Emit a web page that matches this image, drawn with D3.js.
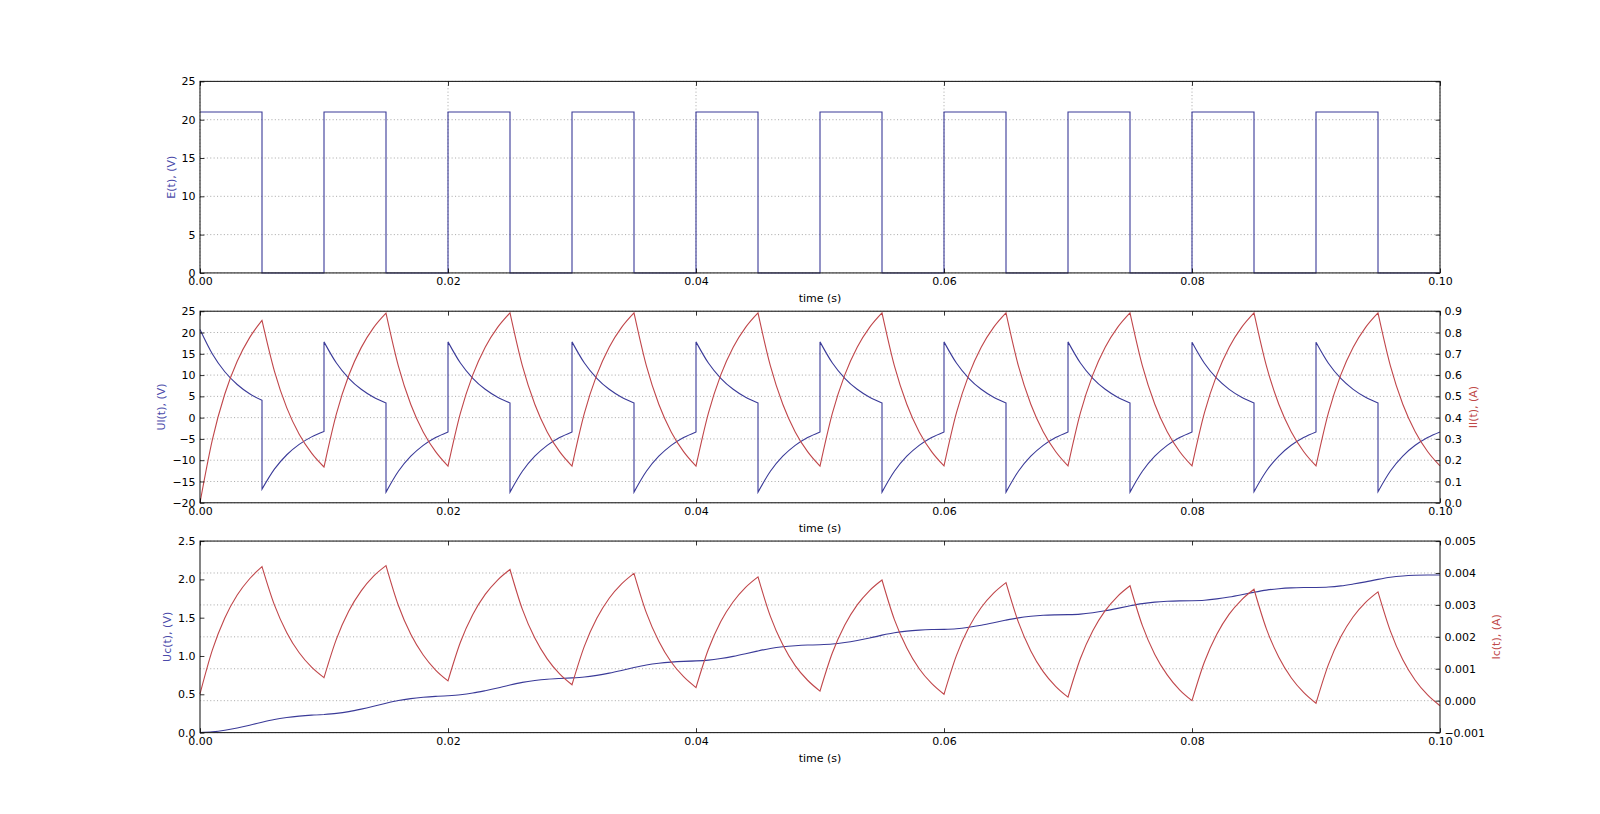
<!DOCTYPE html>
<html>
<head>
<meta charset="utf-8">
<script src="https://cdn.jsdelivr.net/npm/d3@7"></script>
<style>
  body { margin: 0; background: #fff; }
  text { font-family: "DejaVu Sans", sans-serif; }
</style>
</head>
<body>
<svg id="chart" width="1600" height="814"></svg>
<script>
// ---- data (one row per 5 ms half period, samples every 1 ms) ----
const timeTicks = [0, 0.02, 0.04, 0.06, 0.08, 0.1]
const halfPeriod = 0.005
const sampleStep = 0.001

// E(t), V : level of each half period
const eLevels = [21, 0, 21, 0, 21, 0, 21, 0, 21, 0, 21, 0, 21, 0, 21, 0, 21, 0, 21, 0]

// Ul(t), V
const ulSegments = [
    [20.7, 14.94, 10.78, 7.79, 5.62, 4.06],
    [-16.8, -12.11, -8.72, -6.29, -4.52, -3.25],
    [17.8, 12.83, 9.25, 6.66, 4.80, 3.45],
    [-17.5, -12.60, -9.07, -6.52, -4.68, -3.35],
    [17.8, 12.83, 9.25, 6.66, 4.80, 3.45],
    [-17.5, -12.60, -9.07, -6.52, -4.68, -3.35],
    [17.8, 12.83, 9.25, 6.66, 4.80, 3.45],
    [-17.5, -12.60, -9.07, -6.52, -4.68, -3.35],
    [17.8, 12.83, 9.25, 6.66, 4.80, 3.45],
    [-17.5, -12.60, -9.07, -6.52, -4.68, -3.35],
    [17.8, 12.83, 9.25, 6.66, 4.80, 3.45],
    [-17.5, -12.60, -9.07, -6.52, -4.68, -3.35],
    [17.8, 12.83, 9.25, 6.66, 4.80, 3.45],
    [-17.5, -12.60, -9.07, -6.52, -4.68, -3.35],
    [17.8, 12.83, 9.25, 6.66, 4.80, 3.45],
    [-17.5, -12.60, -9.07, -6.52, -4.68, -3.35],
    [17.7, 12.77, 9.21, 6.64, 4.79, 3.45],
    [-17.4, -12.53, -9.03, -6.50, -4.67, -3.35],
    [17.7, 12.77, 9.21, 6.64, 4.79, 3.45],
    [-17.4, -12.53, -9.03, -6.50, -4.67, -3.35]
]

// Il(t), A
const ilSegments = [
    [0, 0.297, 0.511, 0.665, 0.776, 0.857],
    [0.857, 0.619, 0.446, 0.322, 0.233, 0.168],
    [0.168, 0.418, 0.599, 0.729, 0.823, 0.891],
    [0.891, 0.642, 0.462, 0.333, 0.240, 0.172],
    [0.172, 0.421, 0.601, 0.731, 0.824, 0.892],
    [0.892, 0.643, 0.463, 0.333, 0.240, 0.172],
    [0.172, 0.421, 0.601, 0.731, 0.824, 0.892],
    [0.892, 0.643, 0.463, 0.333, 0.240, 0.172],
    [0.172, 0.421, 0.601, 0.731, 0.824, 0.892],
    [0.892, 0.643, 0.463, 0.333, 0.240, 0.172],
    [0.172, 0.421, 0.601, 0.731, 0.824, 0.892],
    [0.892, 0.643, 0.463, 0.333, 0.240, 0.173],
    [0.173, 0.422, 0.601, 0.731, 0.824, 0.892],
    [0.892, 0.643, 0.463, 0.334, 0.241, 0.173],
    [0.173, 0.422, 0.601, 0.731, 0.824, 0.892],
    [0.892, 0.643, 0.463, 0.334, 0.241, 0.173],
    [0.173, 0.422, 0.601, 0.731, 0.824, 0.892],
    [0.892, 0.643, 0.463, 0.334, 0.241, 0.173],
    [0.173, 0.422, 0.601, 0.731, 0.824, 0.892],
    [0.892, 0.643, 0.463, 0.334, 0.241, 0.173]
]

// Uc(t), V
const ucSegments = [
    [0, 0.009, 0.030, 0.060, 0.096, 0.136],
    [0.136, 0.172, 0.197, 0.215, 0.228, 0.237],
    [0.237, 0.251, 0.274, 0.306, 0.343, 0.383],
    [0.383, 0.419, 0.444, 0.461, 0.473, 0.481],
    [0.481, 0.494, 0.516, 0.547, 0.582, 0.622],
    [0.622, 0.656, 0.680, 0.697, 0.707, 0.714],
    [0.714, 0.725, 0.747, 0.776, 0.811, 0.849],
    [0.849, 0.882, 0.905, 0.920, 0.930, 0.936],
    [0.936, 0.946, 0.967, 0.995, 1.029, 1.066],
    [1.066, 1.098, 1.120, 1.134, 1.143, 1.147],
    [1.147, 1.156, 1.176, 1.203, 1.235, 1.272],
    [1.272, 1.303, 1.324, 1.337, 1.345, 1.348],
    [1.348, 1.356, 1.375, 1.401, 1.433, 1.468],
    [1.468, 1.498, 1.518, 1.531, 1.537, 1.540],
    [1.540, 1.547, 1.565, 1.590, 1.621, 1.655],
    [1.655, 1.684, 1.703, 1.714, 1.720, 1.722],
    [1.722, 1.728, 1.745, 1.769, 1.799, 1.832],
    [1.832, 1.860, 1.878, 1.889, 1.893, 1.894],
    [1.894, 1.900, 1.915, 1.939, 1.967, 2.000],
    [2.000, 2.028, 2.045, 2.054, 2.058, 2.058]
]

// Ic(t), mA
const icSegments = [
    [0.21, 1.59, 2.59, 3.31, 3.82, 4.20],
    [4.20, 3.00, 2.13, 1.50, 1.05, 0.72],
    [0.72, 1.93, 2.81, 3.44, 3.90, 4.23],
    [4.23, 2.98, 2.08, 1.43, 0.96, 0.62],
    [0.62, 1.83, 2.70, 3.33, 3.78, 4.11],
    [4.11, 2.86, 1.96, 1.31, 0.84, 0.50],
    [0.50, 1.71, 2.58, 3.21, 3.66, 3.99],
    [3.99, 2.75, 1.86, 1.21, 0.75, 0.41],
    [0.41, 1.61, 2.48, 3.10, 3.55, 3.88],
    [3.88, 2.64, 1.75, 1.10, 0.64, 0.30],
    [0.30, 1.50, 2.37, 3.00, 3.45, 3.78],
    [3.78, 2.54, 1.65, 1.00, 0.54, 0.20],
    [0.20, 1.41, 2.29, 2.92, 3.37, 3.70],
    [3.70, 2.46, 1.56, 0.91, 0.45, 0.11],
    [0.11, 1.32, 2.19, 2.82, 3.27, 3.60],
    [3.60, 2.35, 1.45, 0.81, 0.34, 0.00],
    [0.00, 1.21, 2.08, 2.71, 3.16, 3.49],
    [3.49, 2.25, 1.36, 0.72, 0.26, -0.08],
    [-0.08, 1.13, 2.00, 2.63, 3.08, 3.41],
    [3.41, 2.18, 1.28, 0.64, 0.18, -0.16]
]

const eTicks = [0, 5, 10, 15, 20, 25]
const ulTicks = [-20, -15, -10, -5, 0, 5, 10, 15, 20, 25]
const ilTicks = [0, 0.1, 0.2, 0.3, 0.4, 0.5, 0.6, 0.7, 0.8, 0.9]
const ucTicks = [0, 0.5, 1, 1.5, 2, 2.5]
const icTicks = [-0.001, 0, 0.001, 0.002, 0.003, 0.004, 0.005]

// ---- layout ----
const SVG = d3.select("#chart")
const Width = 1600
const Height = 814
const axLeft = 0.125 * Width
const axRight = 0.9 * Width
const figTop = 0.1 * Height
const figBottom = 0.9 * Height
const axH = (figBottom - figTop) / (3 + 2 * 0.2)
const gap = 0.2 * axH
const fontSize = 11
const tickLen = 4.4
const pad = 4.4

const blue = "#3a3a98"
const red = "#c0464a"
const blueText = "#4a4aaa"
const redText = "#c04848"

const xscale = d3.scaleLinear().domain([0, 0.1]).range([axLeft, axRight])
const fmtX = d3.format(".2f")

function panelTop(i) { return figTop + i * (axH + gap) }

function segmentPath(segments, yscale, scaleBy) {
    const line = d3.line()
        .x(d => xscale(d.t))
        .y(d => yscale(d.v * scaleBy))
        .curve(d3.curveMonotoneX)
    return segments.map((vals, k) => {
        const pts = vals.map((v, j) => ({ t: k * halfPeriod + j * sampleStep, v: v }))
        const p = line(pts)
        return k === 0 ? p : "L" + p.slice(1)
    }).join("")
}

function styleAxis(g) {
    g.select(".domain").remove()
    g.attr("font-size", fontSize).attr("font-family", "DejaVu Sans, sans-serif")
    g.selectAll(".tick line").attr("stroke", "#000").attr("stroke-width", 0.8)
    g.selectAll(".tick text").attr("fill", "#000")
}

function maxLabelWidth(g) {
    return d3.max(g.selectAll(".tick text").nodes(), n => n.getComputedTextLength()) || 0
}

function grid(top, yscale, ticks, vertical) {
    const G = SVG.append("g")
        .attr("stroke", "#000")
        .attr("stroke-opacity", 0.55)
        .attr("stroke-width", 0.6)
        .attr("stroke-dasharray", "1.1,2.3")
    G.selectAll("line.h").data(ticks).join("line")
        .attr("x1", axLeft).attr("x2", axRight)
        .attr("y1", d => yscale(d)).attr("y2", d => yscale(d))
    if (vertical) {
        G.selectAll("line.v").data(timeTicks).join("line")
            .attr("x1", d => xscale(d)).attr("x2", d => xscale(d))
            .attr("y1", top).attr("y2", top + axH)
    }
}

function xAxes(top) {
    const bottom = SVG.append("g")
        .attr("transform", `translate(0, ${top + axH})`)
        .call(d3.axisBottom(xscale).tickValues(timeTicks).tickFormat(fmtX)
            .tickSizeInner(-tickLen).tickSizeOuter(0).tickPadding(pad))
    styleAxis(bottom)
    const upper = SVG.append("g")
        .attr("transform", `translate(0, ${top})`)
        .call(d3.axisTop(xscale).tickValues(timeTicks).tickFormat("")
            .tickSizeInner(-tickLen).tickSizeOuter(0))
    styleAxis(upper)

    SVG.append("text")
        .text("time (s)")
        .attr("x", (axLeft + axRight) / 2)
        .attr("y", top + axH + 29)
        .attr("text-anchor", "middle")
        .attr("font-size", fontSize)
        .attr("fill", "#000")
}

function leftAxis(top, yscale, ticks, fmt, label, color, mirror) {
    const g = SVG.append("g")
        .attr("transform", `translate(${axLeft}, 0)`)
        .call(d3.axisLeft(yscale).tickValues(ticks).tickFormat(fmt)
            .tickSizeInner(-tickLen).tickSizeOuter(0).tickPadding(pad))
    styleAxis(g)
    if (mirror) {
        const r = SVG.append("g")
            .attr("transform", `translate(${axRight}, 0)`)
            .call(d3.axisRight(yscale).tickValues(ticks).tickFormat("")
                .tickSizeInner(-tickLen).tickSizeOuter(0))
        styleAxis(r)
    }
    const w = maxLabelWidth(g)
    const bx = axLeft - pad - w - pad - 0.236 * fontSize
    SVG.append("text")
        .text(label)
        .attr("transform", `translate(${bx}, ${top + axH / 2}) rotate(-90)`)
        .attr("text-anchor", "middle")
        .attr("font-size", fontSize)
        .attr("fill", color)
}

function rightAxis(top, yscale, ticks, fmt, label, color) {
    const g = SVG.append("g")
        .attr("transform", `translate(${axRight}, 0)`)
        .call(d3.axisRight(yscale).tickValues(ticks).tickFormat(fmt)
            .tickSizeInner(-tickLen).tickSizeOuter(0).tickPadding(pad))
    styleAxis(g)
    const w = maxLabelWidth(g)
    const bx = axRight + pad + w + pad + 0.928 * fontSize
    SVG.append("text")
        .text(label)
        .attr("transform", `translate(${bx}, ${top + axH / 2}) rotate(-90)`)
        .attr("text-anchor", "middle")
        .attr("font-size", fontSize)
        .attr("fill", color)
}

function frame(top) {
    SVG.append("rect")
        .attr("x", axLeft).attr("y", top)
        .attr("width", axRight - axLeft).attr("height", axH)
        .attr("fill", "none")
        .attr("stroke", "#222")
        .attr("stroke-width", 1.1)
}

// ---- panel 1 : E(t) ----
const top1 = panelTop(0)
const yE = d3.scaleLinear().domain([0, 25]).range([top1 + axH, top1])
grid(top1, yE, eTicks, true)

const ePoints = eLevels.map((v, k) => [k * halfPeriod, v])
ePoints.push([0.1, eLevels[eLevels.length - 1]])
SVG.append("path")
    .attr("d", d3.line().x(d => xscale(d[0])).y(d => yE(d[1])).curve(d3.curveStepAfter)(ePoints))
    .attr("fill", "none")
    .attr("stroke", blue)
    .attr("stroke-width", 1.1)

frame(top1)
xAxes(top1)
leftAxis(top1, yE, eTicks, d3.format("d"), "E(t), (V)", blueText, true)

// ---- panel 2 : Ul(t) and Il(t) ----
const top2 = panelTop(1)
const yUl = d3.scaleLinear().domain([-20, 25]).range([top2 + axH, top2])
const yIl = d3.scaleLinear().domain([0, 0.9]).range([top2 + axH, top2])
grid(top2, yIl, ilTicks, false)

SVG.append("path")
    .attr("d", segmentPath(ulSegments, yUl, 1))
    .attr("fill", "none")
    .attr("stroke", blue)
    .attr("stroke-width", 1.1)

SVG.append("path")
    .attr("d", segmentPath(ilSegments, yIl, 1))
    .attr("fill", "none")
    .attr("stroke", red)
    .attr("stroke-width", 1.1)

frame(top2)
xAxes(top2)
leftAxis(top2, yUl, ulTicks, d3.format("d"), "Ul(t), (V)", blueText, false)
rightAxis(top2, yIl, ilTicks, d3.format(".1f"), "Il(t), (A)", redText)

// ---- panel 3 : Uc(t) and Ic(t) ----
const top3 = panelTop(2)
const yUc = d3.scaleLinear().domain([0, 2.5]).range([top3 + axH, top3])
const yIc = d3.scaleLinear().domain([-0.001, 0.005]).range([top3 + axH, top3])
grid(top3, yIc, icTicks, false)

SVG.append("path")
    .attr("d", segmentPath(ucSegments, yUc, 1))
    .attr("fill", "none")
    .attr("stroke", blue)
    .attr("stroke-width", 1.1)

SVG.append("path")
    .attr("d", segmentPath(icSegments, yIc, 0.001))
    .attr("fill", "none")
    .attr("stroke", red)
    .attr("stroke-width", 1.1)

frame(top3)
xAxes(top3)
leftAxis(top3, yUc, ucTicks, d3.format(".1f"), "Uc(t), (V)", blueText, false)
rightAxis(top3, yIc, icTicks, d3.format(".3f"), "Ic(t), (A)", redText)
</script>
</body>
</html>
